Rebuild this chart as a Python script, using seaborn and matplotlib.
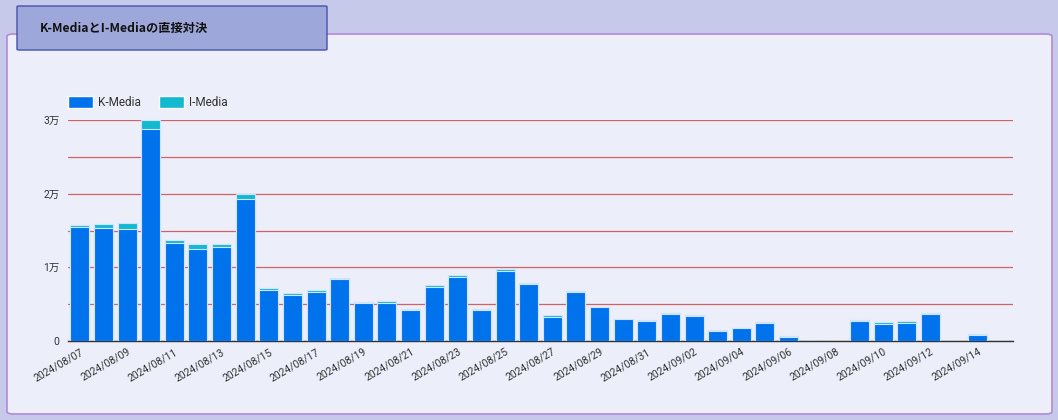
import pandas as pd
import seaborn as sns
import matplotlib.pyplot as plt
from matplotlib.patches import FancyBboxPatch, Patch

# === Données ===
dates = pd.date_range("2024-08-07", "2024-09-15").strftime("%Y/%m/%d").tolist()
k_media = [15450, 15310, 15170, 28770, 13270, 12500, 12770, 19250, 6930, 6200,
           6700, 8420, 5160, 5160, 4230, 7290, 8740, 4230, 9550, 7780,
           3260, 6660, 4580, 2950, 2730, 3670, 3350, 1400, 1730, 2490,
           560, 0, 0, 2720, 2260, 2400, 3670, 0, 810, 0]
i_media = [350, 600, 870, 1170, 400, 700, 400, 700, 230, 320,
           250, 140, 140, 230, 70, 280, 180, 70, 230, 140,
           230, 180, 90, 90, 80, 130, 140, 90, 80, 140,
           70, 0, 0, 180, 320, 320, 130, 0, 140, 0]
y_ticks = [0, 10000, 20000, 30000]
y_tick_labels = ["0", "1万", "2万", "3万"]
title = "K-MediaとI-Mediaの直接対決"

df = pd.DataFrame({"date": dates, "K-Media": k_media, "I-Media": i_media})
df["total"] = df["K-Media"] + df["I-Media"]

k_color = "#0073ec"
i_color = "#12b9cf"

sns.set_theme(style="white")
plt.rcParams["font.family"] = ["Roboto", "Noto Sans CJK JP", "DejaVu Sans"]

fig = plt.figure(figsize=(10.58, 4.2), dpi=100)
fig.patch.set_facecolor("#c6c9e9")

# carte principale
panel = FancyBboxPatch((7 / 1058, 6 / 420), 1045 / 1058, 380 / 420,
                       boxstyle="round,pad=0,rounding_size=0.006",
                       transform=fig.transFigure, facecolor="#eceef9",
                       edgecolor="#b48ad8", linewidth=1.2, zorder=-2)
fig.patches.append(panel)

# bandeau titre
title_box = FancyBboxPatch((17 / 1058, 370 / 420), 310 / 1058, 44 / 420,
                           boxstyle="round,pad=0,rounding_size=0.002",
                           transform=fig.transFigure, facecolor="#9ea7da",
                           edgecolor="#4651ad", linewidth=1.0, zorder=-1)
fig.patches.append(title_box)
fig.text(40 / 1058, 392 / 420, title, fontsize=8.8, fontweight="bold",
         family=["Noto Sans CJK JP", "DejaVu Sans"], color="#111111",
         va="center", ha="left")

ax = fig.add_axes([68 / 1058, 79 / 420, 945 / 1058, 221 / 420])
ax.set_facecolor("none")

sns.barplot(data=df, x="date", y="total", color=i_color, width=0.8,
            edgecolor="#cfe4ff", linewidth=0.8, saturation=1, ax=ax, zorder=3)
sns.barplot(data=df, x="date", y="K-Media", color=k_color, width=0.8,
            edgecolor="#cfe4ff", linewidth=0.8, saturation=1, ax=ax, zorder=4)

ax.set_ylim(0, 30000)
ax.set_xlim(-0.5, len(dates) - 0.5)
ax.set_yticks(y_ticks)
ax.set_yticklabels(y_tick_labels)
ax.set_yticks([5000, 15000, 25000], minor=True)
ax.yaxis.grid(True, which="both", color="#c94a4a", linewidth=0.9, alpha=0.85, zorder=1)
ax.set_axisbelow(True)

ax.set_xticks(range(0, len(dates), 2))
ax.set_xticklabels(dates[::2], rotation=30, ha="right", rotation_mode="anchor")
ax.tick_params(axis="x", labelsize=7.5, colors="#333333", length=0, pad=4)
ax.tick_params(axis="y", labelsize=7.5, colors="#333333", length=0, pad=6)
ax.set_xlabel("")
ax.set_ylabel("")

for side in ["top", "right", "left"]:
    ax.spines[side].set_visible(False)
ax.spines["bottom"].set_color("#333333")
ax.spines["bottom"].set_linewidth(1.0)

handles = [Patch(facecolor=k_color, label="K-Media"),
           Patch(facecolor=i_color, label="I-Media")]
ax.legend(handles=handles, loc="lower left", bbox_to_anchor=(0, 1.05),
          ncol=2, frameon=False, fontsize=8.5, handlelength=2.1,
          handleheight=1.1, columnspacing=1.6, handletextpad=0.4,
          borderaxespad=0, borderpad=0, labelcolor="#333333")

plt.savefig("out.png", dpi=100, facecolor=fig.get_facecolor())
